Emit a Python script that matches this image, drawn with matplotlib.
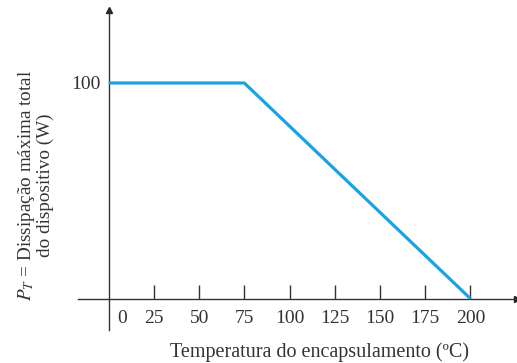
import matplotlib
matplotlib.use("Agg")
import matplotlib.pyplot as plt
import matplotlib.transforms as mtransforms

# dados da curva de derating
temperatura = [0, 75, 200]
potencia = [100, 100, 0]
xticks = [0, 25, 50, 75, 100, 125, 150, 175, 200]
yticks = [100]

plt.rcParams['font.family'] = ['Liberation Serif', 'DejaVu Serif']
plt.rcParams['mathtext.fontset'] = 'stix'

fig = plt.figure(figsize=(5.17, 3.63), dpi=100)
ax = fig.add_axes([0, 0, 1, 1])
ax.set_xlim(-60.1, 225.8)
ax.set_ylim(-29.9, 138.5)
ax.patch.set_visible(False)

ax.plot(temperatura, potencia, color='#1aa2e6', lw=2.3, solid_capstyle='butt', zorder=3)

for s in ['top', 'right']:
    ax.spines[s].set_visible(False)
ax.spines['left'].set_position(('data', 0))
ax.spines['bottom'].set_position(('data', 0))
ax.spines['left'].set_bounds(-14.6, 134)
ax.spines['bottom'].set_bounds(-17, 225.8)
for s in ['left', 'bottom']:
    ax.spines[s].set_color('#333333')
    ax.spines[s].set_linewidth(1.0)

# setas dos eixos
ax.plot(0, 1 - 10 / 363, marker='^', color='#222222', ms=5, transform=ax.get_xaxis_transform(), clip_on=False)
ax.plot(1, 0, marker='>', color='#222222', ms=5, transform=ax.get_yaxis_transform(), clip_on=False)

ax.set_xticks(xticks)
ax.set_xticklabels([str(t) for t in xticks])
ax.tick_params(axis='x', direction='in', length=10, width=1.0, color='#333333',
               pad=8, labelsize=14, labelcolor='#333333')
ax.set_yticks(yticks)
ax.set_yticklabels([str(t) for t in yticks])
ax.tick_params(axis='y', length=0, pad=6, labelsize=14, labelcolor='#333333')

# o rótulo "0" fica deslocado para a direita do eixo y
lbl0 = ax.get_xticklabels()[0]
lbl0.set_transform(lbl0.get_transform() + mtransforms.ScaledTranslation(0.13, 0, fig.dpi_scale_trans))
ax.xaxis.get_major_ticks()[0].tick1line.set_visible(False)

fig.text(319 / 517, 1 - 352 / 363, 'Temperatura do encapsulamento (ºC)', ha='center', va='center',
         fontsize=14.5, color='#333333')
fig.text(35 / 517, 1 - 185 / 363, '$P_T$ = Dissipação máxima total\ndo dispositivo (W)', rotation=90,
         ha='center', va='center', multialignment='center', fontsize=13.8, color='#333333',
         linespacing=1.0)

fig.savefig('out.png', dpi=100)
